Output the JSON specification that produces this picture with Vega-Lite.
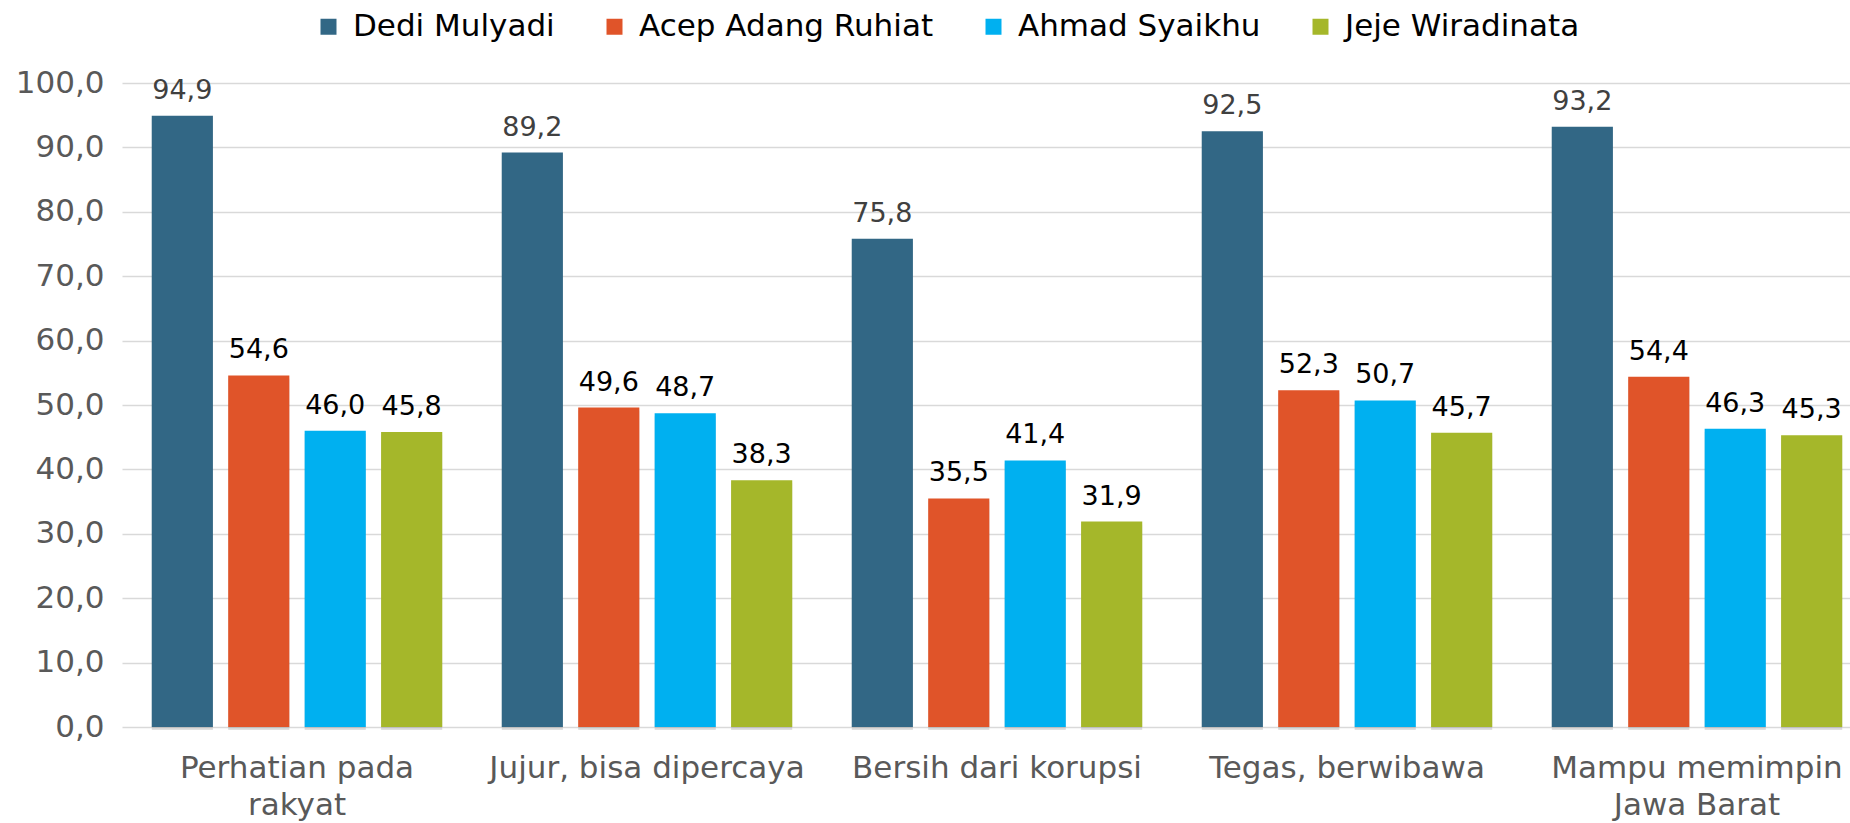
{
  "$schema": "https://vega.github.io/schema/vega-lite/v6.json",
  "autosize": {"type": "none"},
  "width": 1750,
  "height": 644,
  "padding": {"left": 122, "top": 83, "right": 0, "bottom": 96},
  "background": "white",
  "config": {
    "locale": {"number": {"decimal": ",", "thousands": ".", "grouping": [3], "currency": ["", ""]}},
    "view": {"stroke": null},
    "font": "DejaVu Sans"
  },
  "data": {
    "values": [
      {"kategori": "Perhatian pada rakyat", "kandidat": "Dedi Mulyadi", "nilai": 94.9},
      {"kategori": "Perhatian pada rakyat", "kandidat": "Acep Adang Ruhiat", "nilai": 54.6},
      {"kategori": "Perhatian pada rakyat", "kandidat": "Ahmad Syaikhu", "nilai": 46.0},
      {"kategori": "Perhatian pada rakyat", "kandidat": "Jeje Wiradinata", "nilai": 45.8},
      {"kategori": "Jujur, bisa dipercaya", "kandidat": "Dedi Mulyadi", "nilai": 89.2},
      {"kategori": "Jujur, bisa dipercaya", "kandidat": "Acep Adang Ruhiat", "nilai": 49.6},
      {"kategori": "Jujur, bisa dipercaya", "kandidat": "Ahmad Syaikhu", "nilai": 48.7},
      {"kategori": "Jujur, bisa dipercaya", "kandidat": "Jeje Wiradinata", "nilai": 38.3},
      {"kategori": "Bersih dari korupsi", "kandidat": "Dedi Mulyadi", "nilai": 75.8},
      {"kategori": "Bersih dari korupsi", "kandidat": "Acep Adang Ruhiat", "nilai": 35.5},
      {"kategori": "Bersih dari korupsi", "kandidat": "Ahmad Syaikhu", "nilai": 41.4},
      {"kategori": "Bersih dari korupsi", "kandidat": "Jeje Wiradinata", "nilai": 31.9},
      {"kategori": "Tegas, berwibawa", "kandidat": "Dedi Mulyadi", "nilai": 92.5},
      {"kategori": "Tegas, berwibawa", "kandidat": "Acep Adang Ruhiat", "nilai": 52.3},
      {"kategori": "Tegas, berwibawa", "kandidat": "Ahmad Syaikhu", "nilai": 50.7},
      {"kategori": "Tegas, berwibawa", "kandidat": "Jeje Wiradinata", "nilai": 45.7},
      {"kategori": "Mampu memimpin Jawa Barat", "kandidat": "Dedi Mulyadi", "nilai": 93.2},
      {"kategori": "Mampu memimpin Jawa Barat", "kandidat": "Acep Adang Ruhiat", "nilai": 54.4},
      {"kategori": "Mampu memimpin Jawa Barat", "kandidat": "Ahmad Syaikhu", "nilai": 46.3},
      {"kategori": "Mampu memimpin Jawa Barat", "kandidat": "Jeje Wiradinata", "nilai": 45.3}
    ]
  },
  "encoding": {
    "x": {
      "field": "kategori", "type": "nominal", "sort": null,
      "scale": {"paddingInner": 0.17, "paddingOuter": 0.085},
      "axis": {
        "title": null, "labelAngle": 0, "ticks": false, "domain": false,
        "labelFont": "DejaVu Sans", "labelFontSize": 31, "labelColor": "#595959",
        "labelPadding": 26, "labelLineHeight": 37, "labelLimit": 500,
        "labelExpr": "datum.value == 'Perhatian pada rakyat' ? ['Perhatian pada', 'rakyat'] : datum.value == 'Mampu memimpin Jawa Barat' ? ['Mampu memimpin', 'Jawa Barat'] : datum.value"
      }
    },
    "xOffset": {
      "field": "kandidat", "type": "nominal", "sort": ["Dedi Mulyadi", "Acep Adang Ruhiat", "Ahmad Syaikhu", "Jeje Wiradinata"],
      "scale": {"paddingInner": 0.2, "paddingOuter": 0}
    },
    "y": {
      "field": "nilai", "type": "quantitative",
      "scale": {"domain": [0, 100]},
      "axis": {
        "title": null, "values": [0, 10, 20, 30, 40, 50, 60, 70, 80, 90, 100],
        "format": ".1f", "ticks": false, "domain": false,
        "grid": true, "gridColor": "#D9D9D9", "gridWidth": 1.5,
        "labelFont": "DejaVu Sans", "labelFontSize": 31, "labelColor": "#595959", "labelPadding": 18
      }
    }
  },
  "layer": [
    {
      "mark": {"type": "bar", "xOffset": 5, "yOffset": 3, "color": "#000000", "opacity": 0.12},
      "encoding": {}
    },
    {
      "mark": {"type": "bar"},
      "encoding": {
        "color": {
          "field": "kandidat", "type": "nominal",
          "sort": ["Dedi Mulyadi", "Acep Adang Ruhiat", "Ahmad Syaikhu", "Jeje Wiradinata"],
          "scale": {"domain": ["Dedi Mulyadi", "Acep Adang Ruhiat", "Ahmad Syaikhu", "Jeje Wiradinata"], "range": ["#326785", "#E05429", "#00B0F0", "#A5B72A"]},
          "legend": {
            "title": null, "orient": "none", "direction": "horizontal",
            "legendX": 191, "legendY": -72,
            "symbolType": "square", "symbolSize": 256, "symbolStrokeWidth": 0,
            "labelFont": "DejaVu Sans", "labelFontSize": 31, "labelColor": "#000000",
            "columnPadding": 44, "labelOffset": 9, "labelLimit": 500
          }
        }
      }
    },
    {
      "mark": {"type": "text", "baseline": "alphabetic", "dy": -17, "fontSize": 27, "font": "DejaVu Sans"},
      "encoding": {
        "text": {"field": "nilai", "type": "quantitative", "format": ".1f"},
        "color": {
          "condition": {"test": "datum.kandidat == 'Dedi Mulyadi'", "value": "#404040"},
          "value": "#000000"
        }
      }
    }
  ]
}
